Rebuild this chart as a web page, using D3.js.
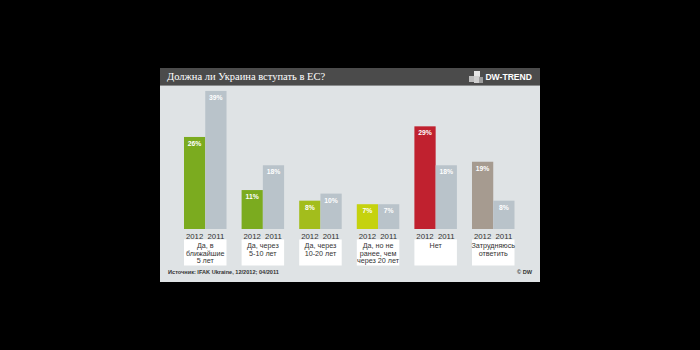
<!DOCTYPE html>
<html><head><meta charset="utf-8">
<script src="https://cdn.jsdelivr.net/npm/d3@7"></script>
<style>html,body{margin:0;padding:0;background:#000;}svg{display:block;}</style>
</head><body>
<script>
const categories = [
  ["Да, в", "ближайшие", "5 лет"],
  ["Да, через", "5-10 лет"],
  ["Да, через", "10-20 лет"],
  ["Да, но не", "ранее, чем", "через 20 лет"],
  ["Нет"],
  ["Затрудняюсь", "ответить"]
];
const years = ["2012", "2011"];
const values2012 = [26, 11, 8, 7, 29, 19];
const values2011 = [39, 18, 10, 7, 18, 8];
const colors2012 = ["#7bab1f", "#7bab1f", "#a3bd1c", "#c5d20e", "#c0212f", "#a69b90"];
const color2011 = "#b9c3ca";
const title = "Должна ли Украина вступать в ЕС?";
const brand = "DW-TREND";
const source = "Источник: IFAK Ukraine, 12/2012; 04/2011";
const credit = "© DW";

const W = 700, H = 350;
const svg = d3.select("body").append("svg").attr("width", W).attr("height", H);
svg.append("rect").attr("width", W).attr("height", H).attr("fill", "#000");

// panel
const P = {x: 160, y: 68, w: 380, h: 214};
svg.append("rect").attr("x", P.x).attr("y", P.y).attr("width", P.w).attr("height", P.h).attr("fill", "#dfe3e5");
svg.append("rect").attr("x", P.x).attr("y", P.y).attr("width", P.w).attr("height", 17).attr("fill", "#4b4b4b");
svg.append("rect").attr("x", P.x).attr("y", P.y + 17).attr("width", P.w).attr("height", 1).attr("fill", "#8a8c8d");

svg.append("text").attr("x", 167).attr("y", 80).attr("fill", "#fff")
  .attr("font-family", "Liberation Serif, DejaVu Serif, serif").attr("font-size", 10.5).text(title);

// brand icon
const ig = svg.append("g").attr("transform", "translate(469,70)");
[[0,6,6,6,"#bdbdbd"],[5,1,6,6,"#e6e6e6"],[5,6,6,7,"#d0d0d0"],[10,7,4,6,"#9e9e9e"]].forEach(d=>{
  ig.append("rect").attr("x", d[0]).attr("y", d[1]).attr("width", d[2]).attr("height", d[3]).attr("fill", d[4]);
});
svg.append("text").attr("x", 532).attr("y", 80).attr("text-anchor", "end").attr("fill", "#fff")
  .attr("font-family", "Liberation Sans, Arial, sans-serif").attr("font-weight", "bold").attr("font-size", 8.6).text(brand);

const x0 = d3.scaleBand().domain(d3.range(categories.length)).range([184, 514.5]).paddingInner(0.262);
const x1 = d3.scaleBand().domain(years).range([0, x0.bandwidth()]);
const y = d3.scaleLinear().domain([0, 40]).range([229, 87.4]);

const data = categories.map((c, i) => ({i, c, v: [values2012[i], values2011[i]]}));
const g = svg.append("g").selectAll("g").data(data).join("g")
  .attr("transform", d => `translate(${x0(d.i)},0)`);

g.selectAll("rect.bar").data(d => years.map((yr, k) => ({yr, v: d.v[k], color: k === 0 ? colors2012[d.i] : color2011})))
  .join("rect").attr("class", "bar")
  .attr("x", d => x1(d.yr)).attr("width", x1.bandwidth())
  .attr("y", d => y(d.v)).attr("height", d => y(0) - y(d.v))
  .attr("fill", d => d.color);

g.selectAll("text.val").data(d => years.map((yr, k) => ({yr, v: d.v[k]})))
  .join("text").attr("class", "val")
  .attr("x", d => x1(d.yr) + x1.bandwidth() / 2).attr("y", d => y(d.v) + 9)
  .attr("text-anchor", "middle").attr("fill", "#fff")
  .attr("font-family", "Liberation Sans, Arial, sans-serif").attr("font-weight", "bold").attr("font-size", 6.8)
  .text(d => d.v + "%");

g.selectAll("text.yr").data(years).join("text").attr("class", "yr")
  .attr("x", d => x1(d) + x1.bandwidth() / 2).attr("y", 238.5)
  .attr("text-anchor", "middle").attr("fill", "#333")
  .attr("font-family", "Liberation Sans, Arial, sans-serif").attr("font-size", 7.8)
  .text(d => d);

g.append("rect").attr("x", 0).attr("y", 239.5).attr("width", x0.bandwidth()).attr("height", 26).attr("fill", "#fff");
g.each(function(d) {
  const t = d3.select(this).append("text").attr("text-anchor", "middle").attr("fill", "#333")
    .attr("font-family", "Liberation Sans, Arial, sans-serif").attr("font-size", 7.2);
  d.c.forEach((line, k) => {
    t.append("tspan").attr("x", x0.bandwidth() / 2).attr("y", 248 + k * 7.6).text(line);
  });
});

svg.append("text").attr("x", 168).attr("y", 274).attr("fill", "#333")
  .attr("font-family", "Liberation Sans, Arial, sans-serif").attr("font-weight", "bold").attr("font-size", 5.6).text(source);
svg.append("text").attr("x", 532).attr("y", 274).attr("text-anchor", "end").attr("fill", "#333")
  .attr("font-family", "Liberation Sans, Arial, sans-serif").attr("font-weight", "bold").attr("font-size", 5.6).text(credit);
</script>
</body></html>
